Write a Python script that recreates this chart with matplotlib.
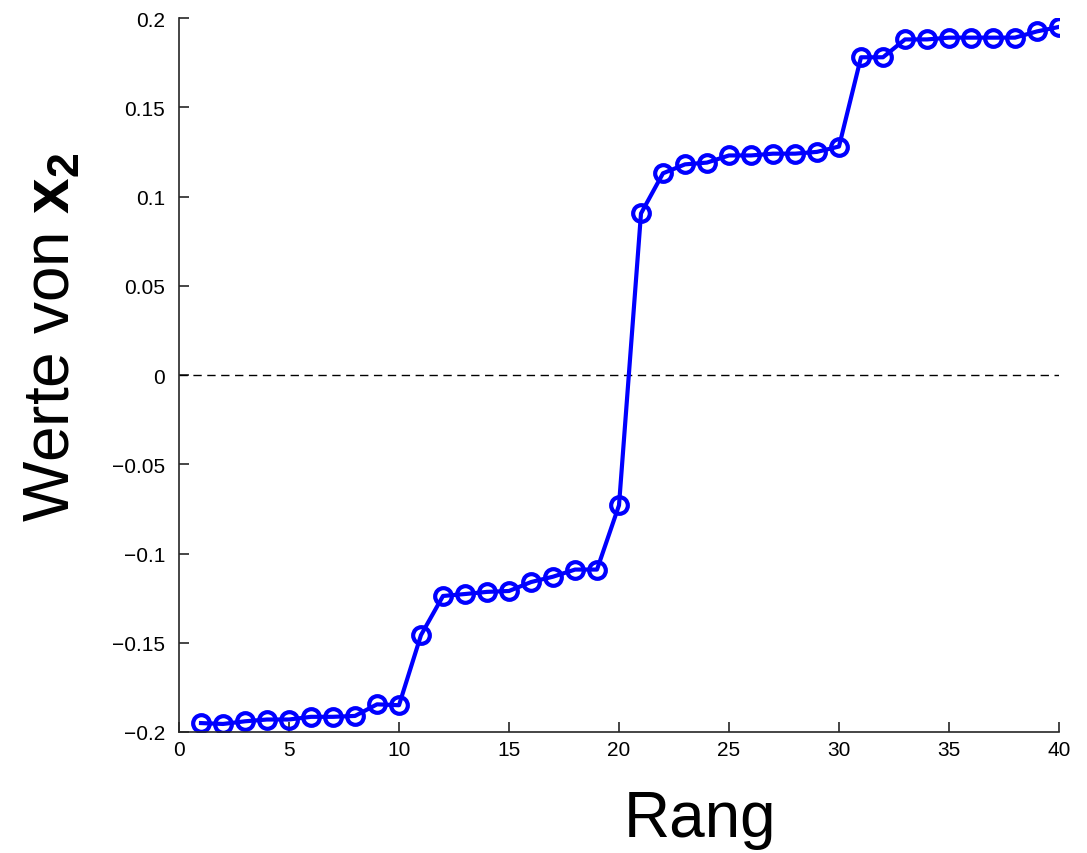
import numpy as np
import matplotlib
matplotlib.use('Agg')
import matplotlib.pyplot as plt

plt.rcParams['font.family'] = ['Liberation Sans', 'DejaVu Sans']
plt.rcParams['mathtext.fontset'] = 'custom'
plt.rcParams['mathtext.rm'] = 'Liberation Sans'
plt.rcParams['mathtext.bf'] = 'Liberation Sans:bold'

# rank and sorted x2 values
rang = np.arange(1, 41)
werte = [-0.195, -0.1955, -0.194, -0.193, -0.193, -0.1915, -0.1915, -0.191, -0.1845, -0.185,
         -0.1457, -0.1238, -0.1227, -0.1215, -0.121, -0.116, -0.113, -0.109, -0.109, -0.073,
         0.0905, 0.113, 0.118, 0.119, 0.123, 0.123, 0.124, 0.124, 0.125, 0.128,
         0.178, 0.178, 0.188, 0.188, 0.189, 0.189, 0.189, 0.189, 0.1925, 0.195]

fig = plt.figure(figsize=(10.87, 8.54), dpi=100)
ax = fig.add_axes([179/1087, 121/854, 880/1087, 714/854])

ax.axhline(0, color='black', lw=1, ls=(0, (6, 4)))
ax.plot(rang, werte, '-o', color='#0000ff', lw=3, ms=12, mew=3, mfc='none')

ax.set_xlim(0, 40)
ax.set_ylim(-0.2, 0.2)
ax.set_xticks(np.arange(0, 41, 5))
ax.set_yticks(np.arange(-0.2, 0.21, 0.05))
ax.set_yticklabels(['\u22120.2', '\u22120.15', '\u22120.1', '\u22120.05', '0', '0.05', '0.1', '0.15', '0.2'])
ax.tick_params(direction='in', length=7, width=1.2, labelsize=15, colors='#262626', labelcolor='black')
ax.tick_params(axis='y', pad=10)
ax.tick_params(axis='x', pad=6)
ax.spines['top'].set_visible(False)
ax.spines['right'].set_visible(False)
for s in ['left', 'bottom']:
    ax.spines[s].set_linewidth(1.2)
    ax.spines[s].set_color('#262626')

ax.set_xlabel('Rang', fontsize=46)
ax.xaxis.set_label_coords(0.592, -0.122)
ax.xaxis.label.set_va('center')
ax.set_ylabel(r'Werte von $\mathbf{x_2}$', fontsize=46)
ax.yaxis.set_label_coords(-0.143, 0.555)
ax.yaxis.label.set_va('center')

fig.savefig('out.png', dpi=100)
